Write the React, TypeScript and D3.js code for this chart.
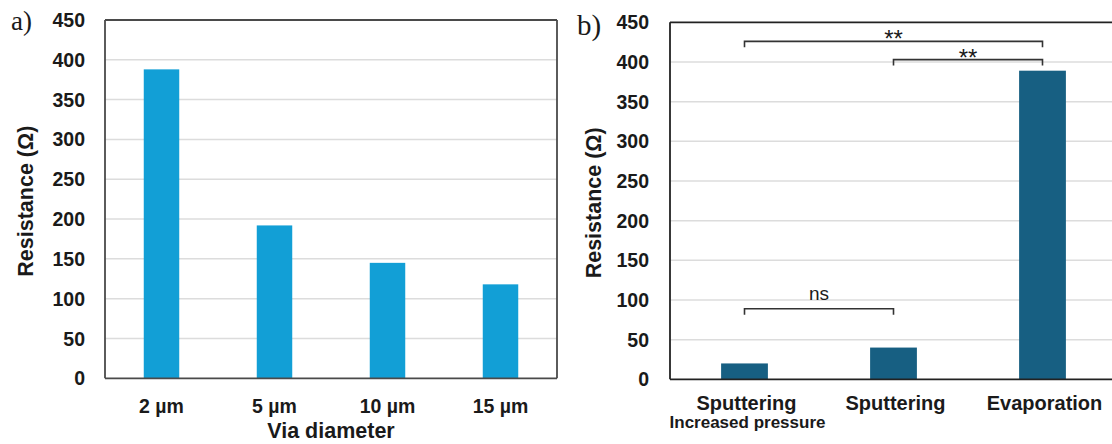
import React, { useRef, useEffect } from "react";
import * as d3 from "d3";

// panel a
const diameters = ["2 µm", "5 µm", "10 µm", "15 µm"];
const resistanceA = [388, 192, 145, 118];

// panel b
const methods = ["Sputtering", "Sputtering", "Evaporation"];
const methodNotes = ["Increased pressure", "", ""];
const resistanceB = [20, 40, 389];
const bracketFrom = [0, 1, 0];
const bracketTo = [2, 2, 1];
const bracketLevel = [426, 403, 89];
const bracketLabel = ["**", "**", "ns"];

const yTicks = [0, 50, 100, 150, 200, 250, 300, 350, 400, 450];

const SANS = "'Liberation Sans', Arial, sans-serif";
const SERIF = "'Liberation Serif', 'Times New Roman', serif";
const TEXT = "#1a1a1a";

function drawPanel(svg, opt) {
  const g = svg.append("g");
  const x = d3
    .scaleBand()
    .domain(opt.cats.map((_, i) => i))
    .range([opt.left, opt.right])
    .paddingInner(0.686)
    .paddingOuter(0.343);
  const y = d3.scaleLinear().domain([0, 450]).range([opt.bottom, opt.top]);

  // grid
  g.append("g")
    .selectAll("line")
    .data(yTicks.filter((t) => t > 0 && t < 450))
    .join("line")
    .attr("x1", opt.left)
    .attr("x2", opt.gridRight)
    .attr("y1", (d) => y(d))
    .attr("y2", (d) => y(d))
    .attr("stroke", "#dcdcdc")
    .attr("stroke-width", 1.5);

  // bars
  g.append("g")
    .selectAll("rect")
    .data(opt.values)
    .join("rect")
    .attr("x", (_, i) => x(i))
    .attr("width", x.bandwidth())
    .attr("y", (d) => y(d))
    .attr("height", (d) => y(0) - y(d))
    .attr("fill", opt.color);

  // frame
  const frame = g.append("g").attr("fill", "none").attr("stroke", opt.frameColor).attr("stroke-width", 1.8);
  frame.append("line").attr("x1", opt.left).attr("x2", opt.left).attr("y1", y(450)).attr("y2", y(0));
  frame.append("line").attr("x1", opt.left).attr("x2", opt.frameRight).attr("y1", y(450)).attr("y2", y(450));
  frame.append("line").attr("x1", opt.left).attr("x2", opt.frameRight).attr("y1", y(0)).attr("y2", y(0));
  if (opt.frameRight < 1112) {
    frame.append("line").attr("x1", opt.frameRight).attr("x2", opt.frameRight).attr("y1", y(450)).attr("y2", y(0));
  }

  // y ticks
  g.append("g")
    .selectAll("text")
    .data(yTicks)
    .join("text")
    .attr("x", opt.tickRight)
    .attr("y", (d) => y(d))
    .attr("dy", "0.36em")
    .attr("text-anchor", "end")
    .attr("font-family", SANS)
    .attr("font-weight", "bold")
    .attr("font-size", 19.5)
    .attr("fill", TEXT)
    .text((d) => d);

  // x labels
  g.append("g")
    .selectAll("text")
    .data(opt.cats)
    .join("text")
    .attr("x", (_, i) => x(i) + x.bandwidth() / 2 + opt.labelShift)
    .attr("y", opt.labelY)
    .attr("text-anchor", "middle")
    .attr("font-family", SANS)
    .attr("font-weight", "bold")
    .attr("font-size", opt.labelSize)
    .attr("fill", TEXT)
    .text((d) => d);

  // y title
  g.append("text")
    .attr("transform", `translate(${opt.yTitleX},${(opt.top + opt.bottom) / 2 + 2}) rotate(-90)`)
    .attr("text-anchor", "middle")
    .attr("font-family", SANS)
    .attr("font-weight", "bold")
    .attr("font-size", 21.5)
    .attr("fill", TEXT)
    .text("Resistance (Ω)");

  // panel letter
  g.append("text")
    .attr("x", opt.letterX)
    .attr("y", opt.letterY)
    .attr("font-family", SERIF)
    .attr("font-size", opt.letterSize)
    .attr("fill", TEXT)
    .text(opt.letter);

  return { g, x, y };
}

export default function App() {
  const ref = useRef(null);

  useEffect(() => {
    const svg = d3.select(ref.current);
    svg.selectAll("*").remove();

    // ---- a) ----
    const a = drawPanel(svg, {
      cats: diameters,
      values: resistanceA,
      left: 105,
      right: 557,
      gridRight: 557,
      frameRight: 557,
      top: 20,
      bottom: 378.3,
      color: "#129fd6",
      frameColor: "#4a4a4a",
      tickRight: 85,
      labelY: 413,
      labelSize: 19.5,
      labelShift: 0,
      yTitleX: 33,
      letter: "a)",
      letterX: 11,
      letterY: 30,
      letterSize: 27,
    });
    a.g.append("text")
      .attr("x", 331)
      .attr("y", 438)
      .attr("text-anchor", "middle")
      .attr("font-family", SANS)
      .attr("font-weight", "bold")
      .attr("font-size", 21.5)
      .attr("fill", TEXT)
      .text("Via diameter");

    // ---- b) ----
    const b = drawPanel(svg, {
      cats: methods,
      values: resistanceB,
      left: 670,
      right: 1117,
      gridRight: 1112,
      frameRight: 1117,
      top: 22.3,
      bottom: 379.3,
      color: "#175f82",
      frameColor: "#222",
      tickRight: 649,
      labelY: 410,
      labelSize: 20,
      labelShift: 2,
      yTitleX: 601,
      letter: "b)",
      letterX: 577,
      letterY: 35,
      letterSize: 29,
    });

    const cx = (i) => b.x(i) + b.x.bandwidth() / 2;

    b.g.append("g")
      .selectAll("text")
      .data(methodNotes)
      .join("text")
      .attr("x", (_, i) => cx(i) + 3)
      .attr("y", 428)
      .attr("text-anchor", "middle")
      .attr("font-family", SANS)
      .attr("font-weight", "bold")
      .attr("font-size", 17)
      .attr("fill", TEXT)
      .text((d) => d);

    const br = b.g.append("g");
    bracketLevel.forEach((lv, k) => {
      const yy = b.y(lv);
      const x1 = cx(bracketFrom[k]);
      const x2 = cx(bracketTo[k]);
      br.append("path")
        .attr("d", `M${x1},${yy + 6}V${yy}H${x2}V${yy + 6}`)
        .attr("fill", "none")
        .attr("stroke", "#333")
        .attr("stroke-width", 1.6);
      const stars = bracketLabel[k] === "**";
      br.append("text")
        .attr("x", (x1 + x2) / 2)
        .attr("y", stars ? yy + 6 : yy - 9)
        .attr("text-anchor", "middle")
        .attr("font-family", SANS)
        .attr("font-size", stars ? 24 : 19)
        .attr("fill", TEXT)
        .text(bracketLabel[k]);
    });
  }, []);

  return (
    <svg
      ref={ref}
      width={1112}
      height={444}
      style={{ position: "absolute", left: 0, top: 0, background: "#fff" }}
    ></svg>
  );
}
